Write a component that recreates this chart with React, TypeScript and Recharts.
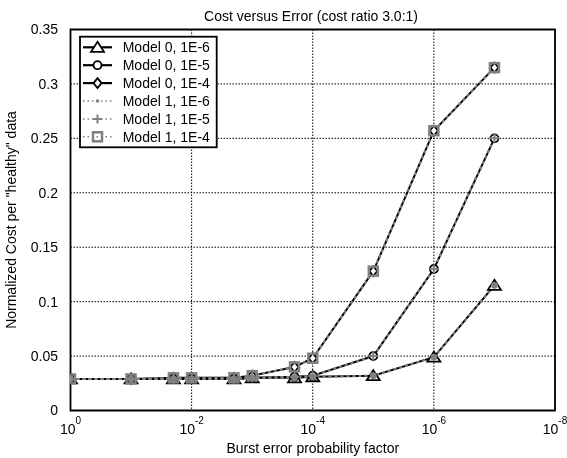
import React from 'react';
import { LineChart, Line, XAxis, YAxis, CartesianGrid, ReferenceArea } from 'recharts';

const FONT = '"Liberation Sans", Arial, Helvetica, sans-serif';
const GRAY = '#808080';

// Burst error probability factor (x) for every sample
const xValues = [1, 1e-1, 2e-2, 1e-2, 2e-3, 1e-3, 2e-4, 1e-4, 1e-5, 1e-6, 1e-7];

// Normalized cost per "healthy" data
const model0_1e6 = [0.029, 0.029, 0.029, 0.029, 0.029, 0.030, 0.030, 0.031, 0.032, 0.049, 0.115];
const model0_1e5 = [0.029, 0.029, 0.029, 0.029, 0.029, 0.030, 0.031, 0.032, 0.050, 0.130, 0.250];
const model0_1e4 = [0.029, 0.029, 0.030, 0.030, 0.030, 0.032, 0.040, 0.048, 0.128, 0.257, 0.315];
const model1_1e6 = [0.029, 0.029, 0.029, 0.029, 0.029, 0.030, 0.030, 0.031, 0.032, 0.049, 0.115];
const model1_1e5 = [0.029, 0.029, 0.029, 0.029, 0.029, 0.030, 0.031, 0.032, 0.050, 0.130, 0.250];
const model1_1e4 = [0.029, 0.029, 0.030, 0.030, 0.030, 0.032, 0.040, 0.048, 0.128, 0.257, 0.315];

const xTicks = [1, 1e-2, 1e-4, 1e-6, 1e-8];
const yTicks = [0, 0.05, 0.1, 0.15, 0.2, 0.25, 0.3, 0.35];

const seriesNames = [
  'Model 0, 1E-6',
  'Model 0, 1E-5',
  'Model 0, 1E-4',
  'Model 1, 1E-6',
  'Model 1, 1E-5',
  'Model 1, 1E-4',
];

const rows = xValues.map((x, i) => ({
  x,
  m0e6: model0_1e6[i],
  m0e5: model0_1e5[i],
  m0e4: model0_1e4[i],
  m1e6: model1_1e6[i],
  m1e5: model1_1e5[i],
  m1e4: model1_1e4[i],
}));

type MarkerKind = 'triangle' | 'circle' | 'diamond' | 'dot' | 'plus' | 'square';

function Marker({ kind, cx, cy, legend }: { kind: MarkerKind; cx: number; cy: number; legend?: boolean }) {
  switch (kind) {
    case 'triangle':
      return (
        <polygon
          points={`${cx},${cy - 5.5} ${cx + 6.5},${cy + 4.5} ${cx - 6.5},${cy + 4.5}`}
          fill="#fff"
          stroke="#000"
          strokeWidth={1.8}
          strokeLinejoin="miter"
        />
      );
    case 'circle':
      return <circle cx={cx} cy={cy} r={4} fill="#fff" stroke="#000" strokeWidth={1.8} />;
    case 'diamond':
      return (
        <polygon
          points={`${cx},${cy - 5} ${cx + 4},${cy} ${cx},${cy + 5} ${cx - 4},${cy}`}
          fill="#fff"
          stroke="#000"
          strokeWidth={1.8}
        />
      );
    case 'dot':
      return <circle cx={cx} cy={cy} r={legend ? 1.8 : 3.4} fill={GRAY} />;
    case 'plus':
      return (
        <path
          d={`M${cx - 4.5},${cy} H${cx + 4.5} M${cx},${cy - 4.5} V${cy + 4.5}`}
          stroke={GRAY}
          strokeWidth={2}
        />
      );
    case 'square':
      return (
        <rect x={cx - 4.5} y={cy - 4.5} width={9} height={9} fill="none" stroke={GRAY} strokeWidth={2.5} />
      );
    default:
      return null;
  }
}

function dotRenderer(kind: MarkerKind, name: string) {
  return (props: any) => {
    const { cx, cy, index } = props;
    if (cx == null || cy == null) return <g key={`${name}-${index}`} />;
    return (
      <g key={`${name}-${index}`}>
        <Marker kind={kind} cx={cx} cy={cy} />
      </g>
    );
  };
}

function PowerTick(props: any) {
  const { x, y, payload } = props;
  const exp = Math.round(Math.log10(payload.value));
  return (
    <text x={x} y={y + 23.8} textAnchor="middle" fill="#000" fontSize={14} fontFamily={FONT}>
      <tspan>10</tspan>
      <tspan dy={-10.5} fontSize={10}>
        {String(exp === 0 ? 0 : exp)}
      </tspan>
    </text>
  );
}

function YLabel(props: any) {
  const vb = props.viewBox || {};
  const cy = (vb.y ?? 29.5) + (vb.height ?? 381) / 2;
  const bx = 16;
  return (
    <text
      x={bx}
      y={cy}
      transform={`rotate(-90 ${bx} ${cy})`}
      textAnchor="middle"
      fill="#000"
      fontSize={14}
      fontFamily={FONT}
    >
      Normalized Cost per "healthy" data
    </text>
  );
}

const legendKinds: MarkerKind[] = ['triangle', 'circle', 'diamond', 'dot', 'plus', 'square'];

function LegendBox() {
  const left = 80;
  const top = 36.7;
  const rowStep = 17.9;
  const firstRow = 47.3;
  return (
    <g>
      <rect x={left} y={top} width={136.7} height={110.6} fill="#fff" stroke="#000" strokeWidth={1.8} />
      {seriesNames.map((name, i) => {
        const cy = firstRow + i * rowStep;
        const model1 = i >= 3;
        return (
          <g key={name}>
            <line
              x1={83}
              x2={112}
              y1={cy}
              y2={cy}
              stroke={model1 ? GRAY : '#000'}
              strokeWidth={model1 ? 1.5 : 2.2}
              strokeDasharray={model1 ? '1.5 3' : undefined}
            />
            <Marker kind={legendKinds[i]} cx={97.5} cy={cy} legend />
            <text x={122.7} y={cy + 5} fontSize={14} fill="#000" fontFamily={FONT}>
              {name}
            </text>
          </g>
        );
      })}
    </g>
  );
}

export default function App() {
  return (
    <div style={{ position: 'fixed', left: 0, top: 0, width: 567, height: 458, fontFamily: FONT }}>
      <LineChart
        width={567}
        height={458}
        data={rows}
        margin={{ top: 29.5, right: 12, bottom: 0, left: 0 }}
        style={{ overflow: 'visible' }}
      >
        <CartesianGrid stroke="#000" strokeDasharray="1.5 1.5" strokeWidth={1} />
        <XAxis
          dataKey="x"
          type="number"
          scale="log"
          domain={[1e-8, 1]}
          reversed
          allowDataOverflow
          ticks={xTicks}
          interval={0}
          tick={<PowerTick />}
          tickLine={false}
          axisLine={false}
          tickSize={0}
          tickMargin={0}
          height={47.5}
          label={{
            value: 'Burst error probability factor',
            position: 'insideBottom',
            offset: 5.3,
            fill: '#000',
            fontSize: 14,
            fontFamily: FONT,
          }}
        />
        <YAxis
          type="number"
          domain={[0, 0.35]}
          ticks={yTicks}
          interval={0}
          width={70.5}
          tickLine={false}
          axisLine={false}
          tickSize={0}
          tickMargin={12.5}
          tick={{ fill: '#000', fontSize: 14, fontFamily: FONT }}
          label={<YLabel />}
        />
        <ReferenceArea
          x1={1}
          x2={1e-8}
          y1={0}
          y2={0.35}
          fill="none"
          fillOpacity={0}
          stroke="#000"
          strokeWidth={1.8}
          ifOverflow="visible"
        />
        <Line dataKey="m0e6" name={seriesNames[0]} stroke="#000" strokeWidth={2} isAnimationActive={false} dot={dotRenderer('triangle', 'm0e6')} activeDot={false} />
        <Line dataKey="m0e5" name={seriesNames[1]} stroke="#000" strokeWidth={2} isAnimationActive={false} dot={dotRenderer('circle', 'm0e5')} activeDot={false} />
        <Line dataKey="m0e4" name={seriesNames[2]} stroke="#000" strokeWidth={2} isAnimationActive={false} dot={dotRenderer('diamond', 'm0e4')} activeDot={false} />
        <Line dataKey="m1e6" name={seriesNames[3]} stroke={GRAY} strokeWidth={2} strokeDasharray="3 3" isAnimationActive={false} dot={dotRenderer('dot', 'm1e6')} activeDot={false} />
        <Line dataKey="m1e5" name={seriesNames[4]} stroke={GRAY} strokeWidth={2} strokeDasharray="3 3" isAnimationActive={false} dot={dotRenderer('plus', 'm1e5')} activeDot={false} />
        <Line dataKey="m1e4" name={seriesNames[5]} stroke={GRAY} strokeWidth={2} strokeDasharray="3 3" isAnimationActive={false} dot={dotRenderer('square', 'm1e4')} activeDot={false} />
      </LineChart>
      <svg
        width={567}
        height={458}
        style={{ position: 'absolute', left: 0, top: 0, pointerEvents: 'none' }}
      >
        <text x={311} y={20.5} textAnchor="middle" fontSize={14} fill="#000" fontFamily={FONT}>
          Cost versus Error (cost ratio 3.0:1)
        </text>
        <LegendBox />
      </svg>
    </div>
  );
}
